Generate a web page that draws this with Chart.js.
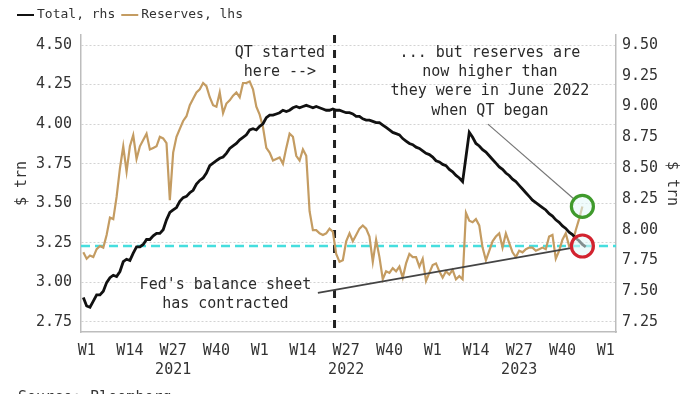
<!DOCTYPE html>
<html><head><meta charset="utf-8">
<script src="https://cdn.jsdelivr.net/npm/chart.js@4.4.1/dist/chart.umd.min.js"></script>
<style>html,body{margin:0;padding:0;background:#fff;}canvas{display:block;}</style>
</head><body>
<canvas id="c" width="700" height="394"></canvas>
<script>
const FONT = '"DejaVu Sans Mono", monospace';

// weeks counted from 2021-W1 (= 0)
const firstWeek = -1;

// Fed total balance sheet, $ trn (right axis), weekly
const totalRhs = [
  7.45, 7.38, 7.37, 7.42, 7.47, 7.47, 7.50, 7.57, 7.61, 7.63, 7.62,
  7.66, 7.74, 7.76, 7.75, 7.81, 7.86, 7.86, 7.88, 7.92, 7.92,
  7.95, 7.97, 7.97, 8.00, 8.08, 8.14, 8.16, 8.18, 8.23, 8.26,
  8.27, 8.30, 8.32, 8.37, 8.40, 8.42, 8.46, 8.52, 8.54, 8.56,
  8.58, 8.59, 8.62, 8.66, 8.68, 8.70, 8.73, 8.75, 8.77, 8.81,
  8.82, 8.81, 8.84, 8.86, 8.91, 8.93, 8.93, 8.94, 8.95, 8.97,
  8.96, 8.97, 8.99, 9.00, 8.99, 9.00, 9.01, 9.00, 8.99, 9.00,
  8.99, 8.98, 8.97, 8.97, 8.98, 8.97, 8.97, 8.96, 8.95, 8.95,
  8.94, 8.92, 8.92, 8.90, 8.89, 8.89, 8.88, 8.87, 8.87, 8.85,
  8.83, 8.81, 8.79, 8.78, 8.77, 8.74, 8.72, 8.70, 8.69, 8.67,
  8.66, 8.64, 8.62, 8.61, 8.59, 8.56, 8.55, 8.53, 8.52, 8.49,
  8.47, 8.44, 8.42, 8.39, 8.59, 8.79, 8.75, 8.70, 8.68, 8.65,
  8.63, 8.60, 8.57, 8.54, 8.51, 8.49, 8.46, 8.44, 8.41, 8.39,
  8.36, 8.33, 8.30, 8.27, 8.24, 8.22, 8.20, 8.18, 8.16, 8.13,
  8.11, 8.08, 8.06, 8.03, 8.01, 7.98, 7.96, 7.93, 7.91, 7.88,
  7.86
];

// Bank reserves, $ trn (left axis), weekly
const reservesLhs = [
  3.19, 3.15, 3.17, 3.16, 3.21, 3.23, 3.22, 3.30, 3.41, 3.40, 3.54,
  3.72, 3.86, 3.70, 3.86, 3.93, 3.78, 3.86, 3.90, 3.94, 3.84,
  3.85, 3.86, 3.92, 3.91, 3.88, 3.52, 3.82, 3.92, 3.97, 4.02,
  4.05, 4.12, 4.16, 4.20, 4.22, 4.26, 4.24, 4.17, 4.12, 4.11,
  4.20, 4.07, 4.13, 4.15, 4.18, 4.20, 4.17, 4.26, 4.26, 4.27,
  4.22, 4.11, 4.06, 3.98, 3.85, 3.82, 3.77, 3.78, 3.79, 3.75,
  3.85, 3.94, 3.92, 3.80, 3.77, 3.84, 3.80, 3.45, 3.33, 3.33,
  3.31, 3.30, 3.31, 3.34, 3.32, 3.18, 3.13, 3.14, 3.26, 3.31,
  3.26, 3.30, 3.34, 3.36, 3.34, 3.29, 3.13, 3.27, 3.16, 3.02,
  3.07, 3.06, 3.09, 3.07, 3.10, 3.03, 3.12, 3.18, 3.16, 3.16,
  3.10, 3.15, 3.01, 3.06, 3.11, 3.12, 3.07, 3.03, 3.07, 3.05,
  3.08, 3.02, 3.04, 3.02, 3.44, 3.39, 3.38, 3.40, 3.36, 3.22,
  3.14, 3.20, 3.26, 3.29, 3.31, 3.22, 3.31, 3.25, 3.19, 3.16,
  3.20, 3.19, 3.21, 3.22, 3.22, 3.20, 3.21, 3.22, 3.21, 3.29,
  3.30, 3.15, 3.20, 3.27, 3.31, 3.23, 3.25, 3.33, 3.40, 3.48
];

const xTickWeeks = [0, 13, 26, 39, 52, 65, 78, 91, 104, 117, 130, 143, 156];
const xTickText  = ['W1','W14','W27','W40','W1','W14','W27','W40','W1','W14','W27','W40','W1'];
const xYearText  = ['','','2021','','','','2022','','','','2023','',''];
const lhsTicks = [2.75, 3.00, 3.25, 3.50, 3.75, 4.00, 4.25, 4.50];
const rhsTicks = [7.25, 7.50, 7.75, 8.00, 8.25, 8.50, 8.75, 9.00, 9.25, 9.50];

const seriesNames = ['Total, rhs', 'Reserves, lhs'];
const qtStartWeek = 74.5;       // June 2022
const qtReserveLevel = 3.23;    // reserves when QT began
const notes = [
  { week: 58.1, lhs: 4.45, lines: ['QT started', 'here -->'] },
  { week: 121.2, lhs: 4.45, lines: ['... but reserves are', 'now higher than', 'they were in June 2022', 'when QT began'] },
  { week: 41.7, lhs: 2.985, lines: ["Fed's balance sheet", 'has contracted'] }
];
const pointers = [
  { fromWeek: 69.5, fromLhs: 2.934, to: 'red' },
  { fromWeek: 120.6, fromLhs: 4.0, to: 'green' }
];
const sourceText = 'Source: Bloomberg';

const totalPts = totalRhs.map((v, i) => ({ x: firstWeek + i, y: v }));
const resPts = reservesLhs.map((v, i) => ({ x: firstWeek + i, y: v }));

const annot = {
  id: 'annot',
  beforeDatasetsDraw(chart) {
    const { ctx, chartArea: a, scales: { x, yL } } = chart;
    ctx.save();
    const yc = yL.getPixelForValue(qtReserveLevel);
    ctx.strokeStyle = '#46dede'; ctx.lineWidth = 2.5; ctx.setLineDash([9, 5]);
    ctx.beginPath(); ctx.moveTo(a.left, yc); ctx.lineTo(a.right, yc); ctx.stroke();
    const xv = x.getPixelForValue(qtStartWeek);
    ctx.strokeStyle = '#222'; ctx.lineWidth = 3; ctx.setLineDash([8, 7]);
    ctx.beginPath(); ctx.moveTo(xv, a.top); ctx.lineTo(xv, a.bottom); ctx.stroke();
    ctx.restore();
  },
  afterDatasetsDraw(chart) {
    const { ctx, scales: { x, yL } } = chart;
    ctx.save();
    ctx.font = '15px ' + FONT; ctx.fillStyle = '#2a2a2a';
    ctx.textAlign = 'center'; ctx.textBaseline = 'middle';
    notes.forEach(n => {
      const px = x.getPixelForValue(n.week), py = yL.getPixelForValue(n.lhs);
      n.lines.forEach((t, i) => ctx.fillText(t, px, py + i * 19.3));
    });
    const lastWeek = firstWeek + reservesLhs.length - 1;
    const circles = {
      green: { x: x.getPixelForValue(lastWeek), y: yL.getPixelForValue(reservesLhs[reservesLhs.length - 1]), c: '#3f9a2c' },
      red: { x: x.getPixelForValue(lastWeek), y: yL.getPixelForValue(qtReserveLevel), c: '#d2232f' }
    };
    const R = 11;
    pointers.forEach((p, i) => {
      const sx = x.getPixelForValue(p.fromWeek), sy = yL.getPixelForValue(p.fromLhs);
      const c = circles[p.to];
      const dx = c.x - sx, dy = c.y - sy, d = Math.hypot(dx, dy);
      const ex = c.x - dx / d * (R + 1), ey = c.y - dy / d * (R + 1);
      ctx.strokeStyle = i === 0 ? '#444' : '#777'; ctx.lineWidth = i === 0 ? 1.6 : 1.2;
      ctx.beginPath(); ctx.moveTo(sx, sy); ctx.lineTo(ex, ey); ctx.stroke();
    });
    Object.values(circles).forEach(c => {
      ctx.beginPath(); ctx.arc(c.x, c.y, R, 0, Math.PI * 2);
      ctx.fillStyle = 'rgba(225,248,248,0.55)'; ctx.fill();
      ctx.strokeStyle = c.c; ctx.lineWidth = 3.2; ctx.stroke();
    });
    ctx.restore();
  },
  afterDraw(chart) {
    const { ctx } = chart;
    ctx.save();
    ctx.font = '13px ' + FONT; ctx.textBaseline = 'middle'; ctx.textAlign = 'left';
    let lx = 17;
    chart.data.datasets.forEach(ds => {
      ctx.strokeStyle = ds.borderColor; ctx.lineWidth = 2;
      ctx.beginPath(); ctx.moveTo(lx, 15); ctx.lineTo(lx + 17, 15); ctx.stroke();
      ctx.fillStyle = '#333';
      ctx.fillText(ds.label, lx + 20, 15);
      lx += 20 + ctx.measureText(ds.label).width + 6;
    });
    ctx.font = '15px ' + FONT; ctx.textBaseline = 'top'; ctx.fillStyle = '#333';
    ctx.fillText(sourceText, 18, 391);
    ctx.restore();
  }
};

const tickFont = { family: FONT, size: 15 };
new Chart(document.getElementById('c'), {
  type: 'line',
  data: {
    datasets: [
      { label: seriesNames[0], data: totalPts, yAxisID: 'yR', borderColor: '#111111', borderWidth: 2.8, pointRadius: 0, tension: 0 },
      { label: seriesNames[1], data: resPts, yAxisID: 'yL', borderColor: '#c49c62', borderWidth: 2.2, pointRadius: 0, tension: 0 }
    ]
  },
  options: {
    responsive: false, animation: false, parsing: true,
    layout: { padding: { top: 35, left: 0, right: 0, bottom: 0 } },
    plugins: { legend: { display: false }, tooltip: { enabled: false } },
    scales: {
      x: {
        type: 'linear', min: -1.7, max: 159.1,
        afterBuildTicks: s => { s.ticks = xTickWeeks.map(v => ({ value: v })); },
        afterFit: s => { s.height = 62; },
        ticks: {
          autoSkip: false, maxRotation: 0, padding: 9, color: '#333',
          font: { family: FONT, size: 15, lineHeight: 1.3 },
          callback: (v, i) => xYearText[i] ? [xTickText[i], xYearText[i]] : xTickText[i]
        },
        grid: { drawOnChartArea: false, drawTicks: false },
        border: { color: '#bdbdbd', width: 1.5 }
      },
      yL: {
        position: 'left', min: 2.6868, max: 4.5632,
        afterBuildTicks: s => { s.ticks = lhsTicks.map(v => ({ value: v })); },
        afterFit: s => { s.width = 81; },
        ticks: { padding: 9, color: '#333', font: tickFont, callback: v => v.toFixed(2) },
        grid: { color: '#d3d3d3', lineWidth: 1, drawTicks: false },
        border: { color: '#bdbdbd', width: 1.5, dash: [2, 2] },
        title: { display: true, text: '$ trn', color: '#333', font: tickFont, padding: { top: 13, bottom: 0 } }
      },
      yR: {
        position: 'right', min: 7.1688, max: 9.5812,
        afterBuildTicks: s => { s.ticks = rhsTicks.map(v => ({ value: v })); },
        afterFit: s => { s.width = 84; },
        ticks: { padding: 6, color: '#333', font: tickFont, callback: v => v.toFixed(2) },
        grid: { drawOnChartArea: false, drawTicks: false },
        border: { color: '#bdbdbd', width: 1.5 },
        title: { display: true, text: '$ trn', color: '#333', font: tickFont, padding: { top: 19, bottom: 0 } }
      }
    }
  },
  plugins: [annot]
});
</script>
</body></html>
